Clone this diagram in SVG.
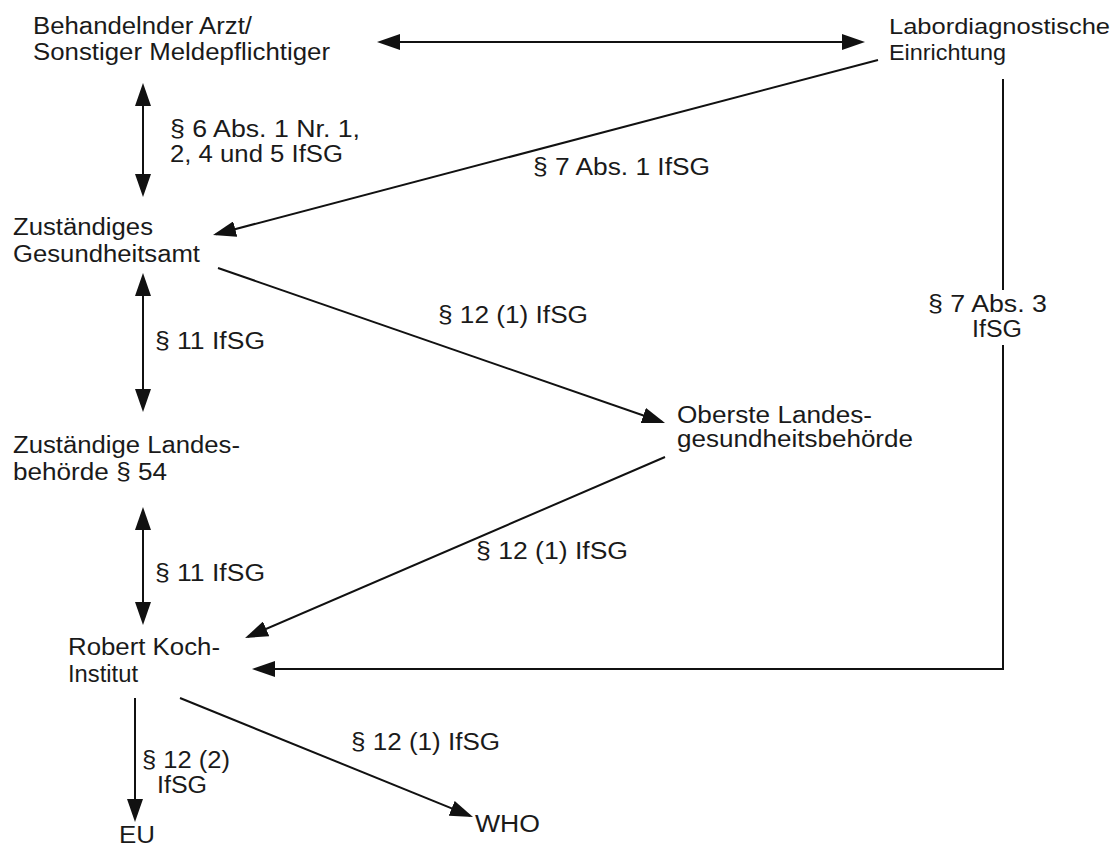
<svg xmlns="http://www.w3.org/2000/svg" width="1116" height="846" viewBox="0 0 1116 846">
<style>
text{font-family:"Liberation Sans",Arial,Helvetica,sans-serif;font-size:23px;fill:#1a1a1a}
.sm{font-size:22px}
.c{fill:none;stroke:#111;stroke-width:2}
.a{marker-end:url(#ah)}
.d{marker-start:url(#ah);marker-end:url(#ah)}
</style>
<defs>
<marker id="ah" viewBox="0 0 23 16" markerWidth="23" markerHeight="16" refX="20" refY="8" orient="auto-start-reverse" markerUnits="userSpaceOnUse">
<path d="M0,0 L23,8 L0,16 z" fill="#111"/>
</marker>
</defs>
<rect width="1116" height="846" fill="#fff"/>
<g id="connectors">
<line class="c d" x1="380" y1="42" x2="862" y2="42"/>
<line class="c d" x1="143" y1="86" x2="143" y2="194"/>
<line class="c a" x1="878" y1="60" x2="215.9" y2="234.2"/>
<line class="c a" x1="218" y1="268" x2="662.2" y2="422"/>
<line class="c d" x1="143" y1="276" x2="143" y2="409"/>
<line class="c d" x1="143" y1="510" x2="143" y2="622"/>
<line class="c a" x1="665" y1="457" x2="247.8" y2="636.8"/>
<line class="c" x1="1003" y1="79" x2="1003" y2="290"/>
<polyline class="c a" points="1003,345 1003,669 255,669"/>
<line class="c a" x1="135" y1="698" x2="135" y2="819"/>
<line class="c a" x1="180" y1="698" x2="470.2" y2="815.9"/>
</g>
<g id="labels">
<text x="170" y="137" textLength="190" lengthAdjust="spacingAndGlyphs">§ 6 Abs. 1 Nr. 1,</text>
<text x="170" y="162" textLength="173" lengthAdjust="spacingAndGlyphs">2, 4 und 5 IfSG</text>
<text x="533" y="175" textLength="177" lengthAdjust="spacingAndGlyphs">§ 7 Abs. 1 IfSG</text>
<text x="438" y="323" textLength="150" lengthAdjust="spacingAndGlyphs">§ 12 (1) IfSG</text>
<text x="155" y="349" textLength="110" lengthAdjust="spacingAndGlyphs">§ 11 IfSG</text>
<text x="928" y="312" textLength="119" lengthAdjust="spacingAndGlyphs">§ 7 Abs. 3</text>
<text x="972" y="337" textLength="50" lengthAdjust="spacingAndGlyphs">IfSG</text>
<text x="476" y="559" textLength="152" lengthAdjust="spacingAndGlyphs">§ 12 (1) IfSG</text>
<text x="155" y="581" textLength="110" lengthAdjust="spacingAndGlyphs">§ 11 IfSG</text>
<text x="351" y="750" textLength="149" lengthAdjust="spacingAndGlyphs">§ 12 (1) IfSG</text>
<text x="142" y="768" textLength="88" lengthAdjust="spacingAndGlyphs">§ 12 (2)</text>
<text x="157" y="793" textLength="50" lengthAdjust="spacingAndGlyphs">IfSG</text>
</g>
<g id="arzt">
<text x="33" y="34" textLength="219" lengthAdjust="spacingAndGlyphs">Behandelnder Arzt/</text>
<text x="33" y="60" textLength="297" lengthAdjust="spacingAndGlyphs">Sonstiger Meldepflichtiger</text>
</g>
<g id="labor">
<text class="sm" x="889" y="33.5" textLength="221" lengthAdjust="spacingAndGlyphs">Labordiagnostische</text>
<text class="sm" x="889" y="60" textLength="117" lengthAdjust="spacingAndGlyphs">Einrichtung</text>
</g>
<g id="gesundheitsamt">
<text x="13" y="235" textLength="140" lengthAdjust="spacingAndGlyphs">Zuständiges</text>
<text x="13" y="262" textLength="187" lengthAdjust="spacingAndGlyphs">Gesundheitsamt</text>
</g>
<g id="oberste">
<text x="677" y="423" textLength="195" lengthAdjust="spacingAndGlyphs">Oberste Landes-</text>
<text x="677" y="447" textLength="236" lengthAdjust="spacingAndGlyphs">gesundheitsbehörde</text>
</g>
<g id="landesbehoerde">
<text x="13" y="453" textLength="227" lengthAdjust="spacingAndGlyphs">Zuständige Landes-</text>
<text x="13" y="480" textLength="154" lengthAdjust="spacingAndGlyphs">behörde § 54</text>
</g>
<g id="rki">
<text x="68" y="655" textLength="152" lengthAdjust="spacingAndGlyphs">Robert Koch-</text>
<text x="68" y="682" textLength="70" lengthAdjust="spacingAndGlyphs">Institut</text>
</g>
<g id="eu">
<text x="119" y="843" textLength="36" lengthAdjust="spacingAndGlyphs">EU</text>
</g>
<g id="who">
<text x="475" y="832" textLength="65" lengthAdjust="spacingAndGlyphs">WHO</text>
</g>
</svg>
